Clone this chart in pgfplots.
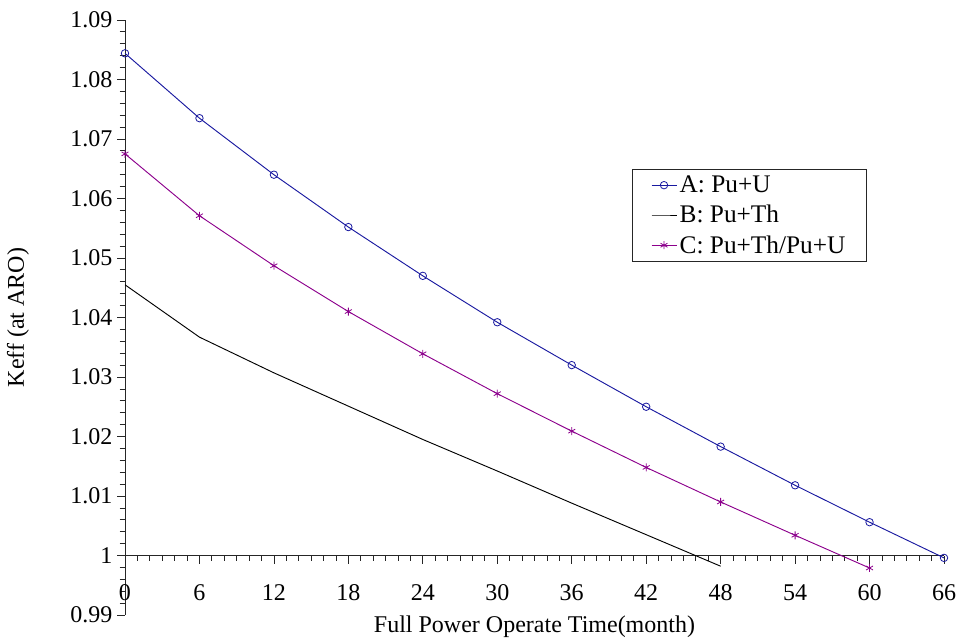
\documentclass[border=0pt]{standalone}
\usepackage{pgfplots}
\pgfplotsset{compat=1.18}
\usepackage{fontspec}
\setmainfont{Liberation Serif}
\definecolor{seriesA}{RGB}{25,25,160}
\definecolor{seriesC}{RGB}{140,0,140}
\newcommand{\chartfont}{\fontsize{18}{21}\selectfont}
\newcommand{\legendfont}{\fontsize{19}{22}\selectfont}

\begin{document}
\begin{tikzpicture}
\begin{axis}[
    scale only axis,
    width=614.25pt, height=446.25pt,
    xmin=0, xmax=66, ymin=0.99, ymax=1.09,
    axis y line=left, axis x line=bottom,
    axis x line shift=-44.625pt,
    axis line style={-, line width=0.7pt, black!85},
    xtick={0,6,12,18,24,30,36,42,48,54,60,66},
    ytick={0.99,1,1.01,1.02,1.03,1.04,1.05,1.06,1.07,1.08,1.09},
    yticklabels={0.99,1,1.01,1.02,1.03,1.04,1.05,1.06,1.07,1.08,1.09},
    minor x tick num=5, minor y tick num=4,
    tick align=outside,
    major tick length=6pt, minor tick length=4pt,
    tick style={black!85, line width=0.6pt},
    /pgf/number format/assume math mode=true,
    tick label style={font=\chartfont},
    xticklabel style={yshift=-12pt},
    xlabel={Full Power Operate Time(month)},
    ylabel={Keff (at ARO)},
    every axis x label/.style={at={([yshift=-9pt]rel axis cs:0.5,0)}, anchor=center, font=\chartfont},
    every axis y label/.style={at={([xshift=-80.25pt]rel axis cs:0,0.5)}, anchor=center, rotate=90, font=\chartfont},
    legend style={at={(rel axis cs:0.619,0.75)}, anchor=north west,
        draw=black!85, line width=0.6pt, font=\legendfont,
        cells={anchor=west}, inner xsep=14pt, inner ysep=3pt, row sep=4pt},
    legend image code/.code={
        \draw[mark repeat=2,mark phase=2] plot coordinates {(0cm,0cm) (0.33cm,0cm) (0.66cm,0cm)};},
]
\addplot[seriesA, line width=0.7pt, mark=o, mark size=2.8pt, mark options={solid, line width=0.6pt}]
  coordinates {(0,1.0844) (6,1.0735) (12,1.0640) (18,1.0552) (24,1.0470) (30,1.0392)
               (36,1.0320) (42,1.0250) (48,1.0183) (54,1.0118) (60,1.0056) (66,0.9996)};
\addplot[black, line width=0.7pt, no markers]
  coordinates {(0,1.0455) (6,1.0367) (12,1.0307) (18,1.0251) (24,1.0195) (30,1.0142)
               (36,1.0088) (42,1.0035) (48,0.9982)};
\addplot[seriesC, line width=0.7pt, mark=asterisk, mark size=3pt, mark options={solid, line width=0.6pt}]
  coordinates {(0,1.0675) (6,1.0571) (12,1.0487) (18,1.0410) (24,1.0339) (30,1.0272)
               (36,1.0209) (42,1.0148) (48,1.0090) (54,1.0034) (60,0.9979)};
\legend{A: Pu+U, B: Pu+Th, C: Pu+Th/Pu+U}
\coordinate (ll) at (rel axis cs:0,0);
\coordinate (ur) at (rel axis cs:1,1);
\end{axis}
\pgfresetboundingbox
\path ([shift={(-93.75pt,-18pt)}]ll) rectangle ([shift={(13.5pt,15pt)}]ur);
\end{tikzpicture}
\end{document}
